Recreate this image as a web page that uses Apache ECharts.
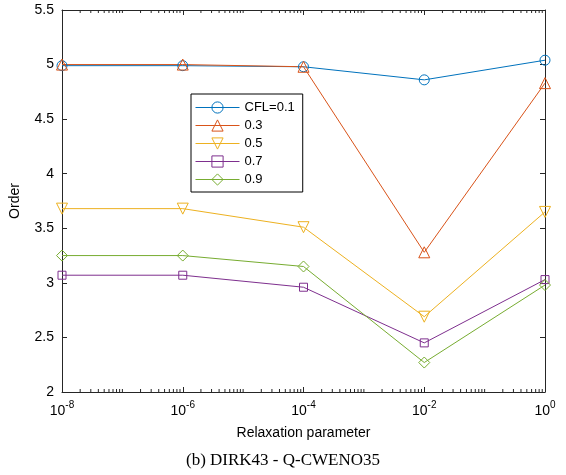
<!DOCTYPE html>
<html><head><meta charset="utf-8">
<script src="https://cdn.jsdelivr.net/npm/echarts@6/dist/echarts.min.js"></script>
<style>html,body{margin:0;padding:0;background:#fff}#c{width:566px;height:475px}</style>
</head><body><div id="c"></div>
<script>
const relax = [1e-8, 1e-6, 1e-4, 1e-2, 1];
const cfl01 = [4.99, 4.99, 4.98, 4.86, 5.04];
const cfl03 = [5.00, 5.00, 4.98, 3.28, 4.83];
const cfl05 = [3.68, 3.68, 3.51, 2.69, 3.65];
const cfl07 = [3.07, 3.07, 2.96, 2.45, 3.03];
const cfl09 = [3.25, 3.25, 3.15, 2.27, 2.98];
const seriesNames = ['CFL=0.1', '0.3', '0.5', '0.7', '0.9'];
const yTicks = [2, 2.5, 3, 3.5, 4, 4.5, 5, 5.5];

const colors = ['#0072BD', '#D95319', '#EDB120', '#7E2F8E', '#77AC30'];
const symbols = ['circle', 'triangle', 'path://M0,0 L10,0 L5,10 Z', 'rect', 'diamond'];
const sizes = [10, 11, 11, 8, 11];
const values = [cfl01, cfl03, cfl05, cfl07, cfl09];

// minor ticks on log axis (2..9 x 10^e, plus odd decades)
const minorTicks = [];
for (let e = -8; e < 0; e++) {
  if (e % 2 !== 0) minorTicks.push(Math.pow(10, e));
  for (let k = 2; k <= 9; k++) minorTicks.push(k * Math.pow(10, e));
}

const axisColor = '#262626';
const font = 'Liberation Sans, Arial, sans-serif';

const lineSeries = values.map((v, i) => ({
  name: seriesNames[i],
  type: 'line',
  data: relax.map((x, j) => [x, v[j]]),
  symbol: symbols[i],
  symbolSize: sizes[i],
  showAllSymbol: true,
  lineStyle: { color: colors[i], width: 1 },
  itemStyle: { color: 'rgba(255,255,255,0)', borderColor: colors[i], borderWidth: 1 },
  emphasis: { disabled: true },
  animation: false,
  z: 3
}));

const minorSeries = {
  type: 'custom',
  silent: true,
  animation: false,
  data: minorTicks.map(v => [v]),
  clip: false,
  renderItem: function (params, api) {
    const v = api.value(0);
    const b = api.coord([v, 2]);
    const t = api.coord([v, 5.5]);
    const st = { stroke: axisColor, lineWidth: 1 };
    return {
      type: 'group',
      children: [
        { type: 'line', shape: { x1: b[0], y1: b[1], x2: b[0], y2: b[1] - 3 }, style: st },
        { type: 'line', shape: { x1: t[0], y1: t[1], x2: t[0], y2: t[1] + 3 }, style: st }
      ]
    };
  },
  z: 2
};

const xBase = {
  type: 'log',
  logBase: 10,
  min: 1e-8,
  max: 1,
  interval: 2,
  axisLine: { show: true, onZero: false, lineStyle: { color: axisColor, width: 1 } },
  axisTick: { show: true, inside: true, length: 5, lineStyle: { color: axisColor } },
  splitLine: { show: false },
};

const yBase = {
  type: 'value',
  min: 2,
  max: 5.5,
  interval: 0.5,
  axisLine: { show: true, onZero: false, lineStyle: { color: axisColor, width: 1 } },
  axisTick: { show: true, inside: true, length: 5, lineStyle: { color: axisColor } },
  splitLine: { show: false },
};

const chart = echarts.init(document.getElementById('c'), null, { renderer: 'canvas' });
chart.setOption({
  animation: false,
  backgroundColor: '#fff',
  grid: { left: 62, right: 21, top: 10, bottom: 83 },
  title: {
    text: '(b) DIRK43 - Q-CWENO35',
    left: 'center',
    bottom: 1,
    textStyle: { fontFamily: 'Liberation Serif, Times New Roman, serif', fontSize: 17, fontWeight: 'normal', color: '#000' }
  },
  legend: {
    data: seriesNames,
    orient: 'vertical',
    left: 191,
    top: 94,
    padding: [7, 8, 6, 4],
    itemGap: 5,
    itemWidth: 44,
    itemHeight: 14,
    borderColor: '#000',
    borderWidth: 1,
    backgroundColor: '#fff',
    lineStyle: { width: 1 },
    itemStyle: { borderWidth: 1 },
    textStyle: { fontFamily: font, fontSize: 13, color: '#000' }
  },
  xAxis: [
    Object.assign({}, xBase, {
      position: 'bottom',
      name: 'Relaxation parameter',
      nameLocation: 'middle',
      nameGap: 34,
      nameTextStyle: { fontFamily: font, fontSize: 14, color: '#000' },
      axisLabel: {
        margin: 8,
        formatter: function (v) {
          const e = Math.round(Math.log10(v));
          return '{b|10}{s|' + e + '}';
        },
        rich: {
          b: { fontFamily: font, fontSize: 14, color: '#000', verticalAlign: 'bottom' },
          s: { fontFamily: font, fontSize: 10, color: '#000', verticalAlign: 'top', padding: [0, 0, 8, 0] }
        }
      }
    }),
    Object.assign({}, xBase, { position: 'top', axisLabel: { show: false } })
  ],
  yAxis: [
    Object.assign({}, yBase, {
      position: 'left',
      name: 'Order',
      nameLocation: 'middle',
      nameGap: 40,
      nameTextStyle: { fontFamily: font, fontSize: 14, color: '#000' },
      axisLabel: { fontFamily: font, fontSize: 14, color: '#000', margin: 8 }
    }),
    Object.assign({}, yBase, { position: 'right', axisLabel: { show: false } })
  ],
  series: lineSeries.concat([minorSeries])
});
</script>
</body></html>
